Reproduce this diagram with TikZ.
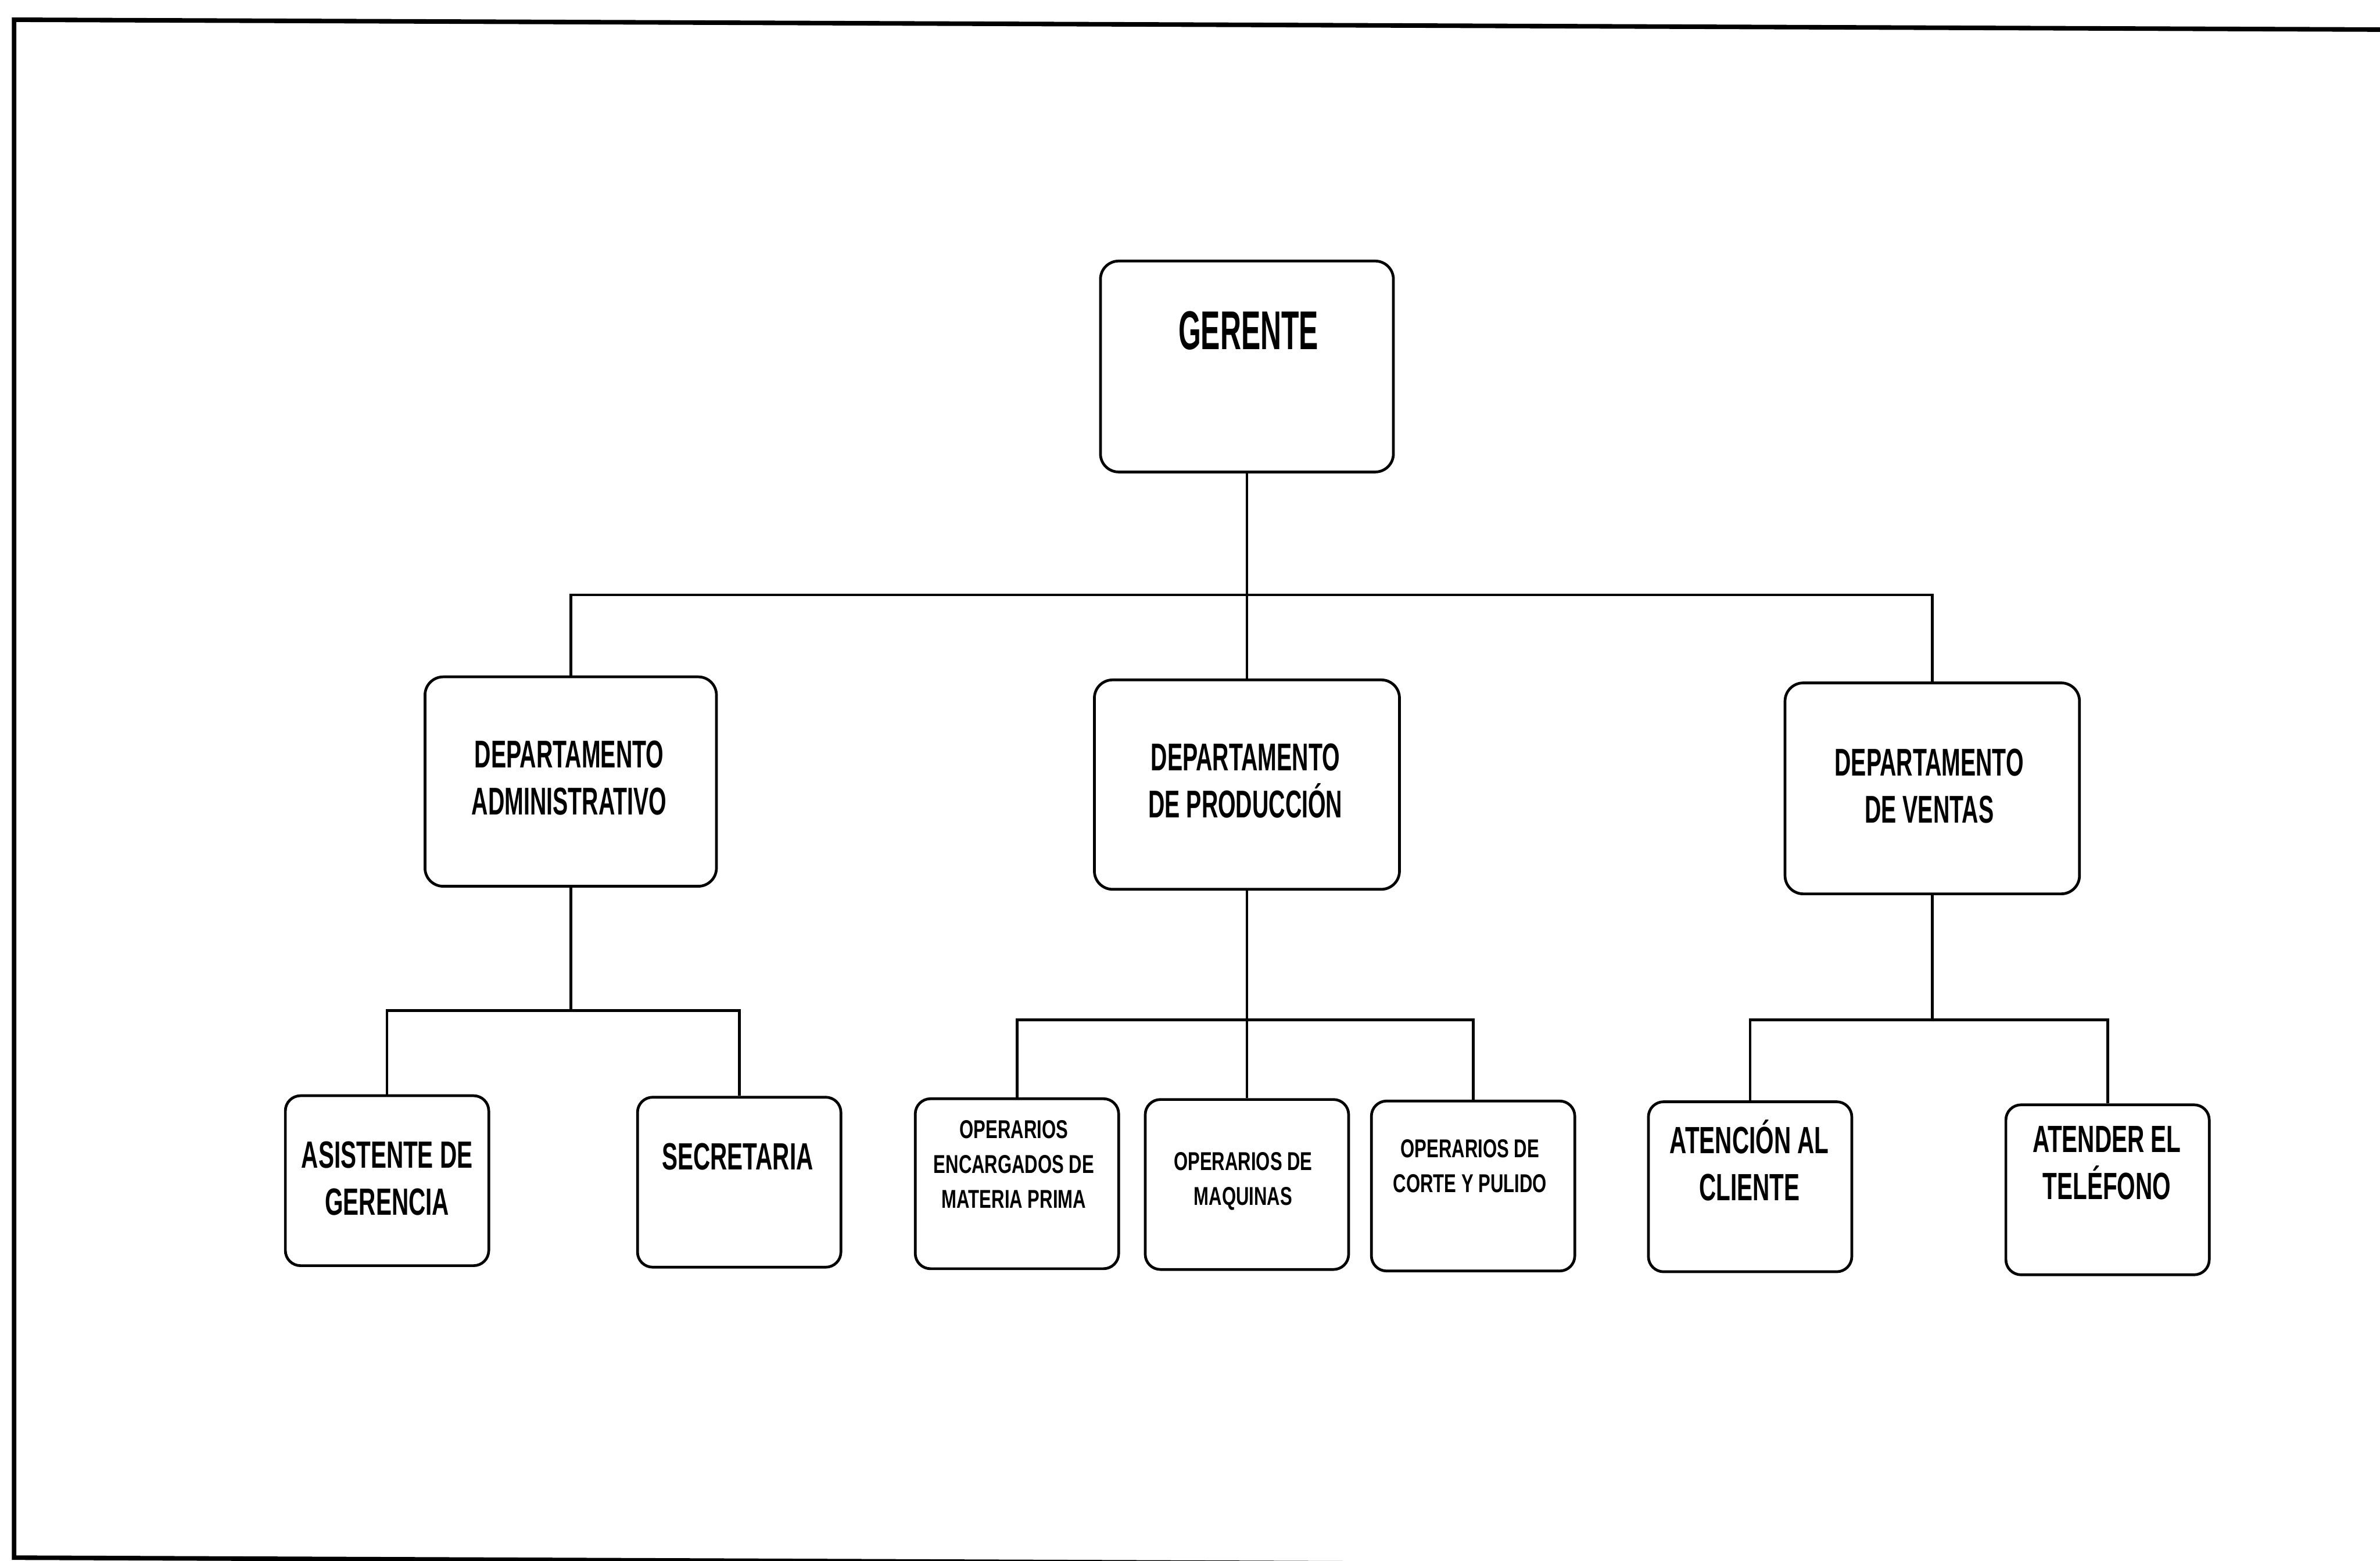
\documentclass[tikz,border=0pt]{standalone}
\usepackage{fontspec}
\newfontfamily\fGer[FakeStretch=0.53]{Liberation Sans}
\newfontfamily\fDep[FakeStretch=0.59]{Liberation Sans}
\newfontfamily\fBot[FakeStretch=0.62]{Liberation Sans}
\newfontfamily\fOp[FakeStretch=0.70]{Liberation Sans}
\begin{document}
\begin{tikzpicture}[x=1pt,y=-1pt,
  box/.style={draw, line width=1.8pt, rounded corners=12pt, fill=white},
  topbox/.style={box, minimum width=193pt, minimum height=139pt},
  depbox/.style={box, minimum height=138pt},
  smallbox/.style={box, rounded corners=10pt, minimum width=134pt, minimum height=112pt},
  link/.style={line width=1.8pt},
  frame/.style={line width=3pt},
  txt/.style={align=center, inner sep=0pt, text=black},
  gtxt/.style={txt, font=\fGer\bfseries\fontsize{36}{40}\selectfont},
  dtxt/.style={txt, font=\fDep\bfseries\fontsize{25.5}{31}\selectfont},
  btxt/.style={txt, font=\fBot\bfseries\fontsize{25}{31}\selectfont},
  otxt/.style={txt, font=\fOp\bfseries\fontsize{17}{23}\selectfont}]

\path[use as bounding box] (0,0) rectangle (1568,1028.45);
\clip (0,0) rectangle (1568,1028.45);

% outer frame (open on the right)
\draw[frame] (1570,19.5) -- (9.3,13) -- (9.3,1026.4) -- (1570,1033);

% boxes
\node[topbox] (ger) at (821.5,241.5) {};
\node[depbox, minimum width=192pt] (adm) at (376,515) {};
\node[depbox, minimum width=201pt] (prd) at (821.5,517) {};
\node[depbox, minimum width=194pt, minimum height=139pt] (ven) at (1273,519.5) {};

\node[smallbox] (asi) at (255,778) {};
\node[smallbox] (sec) at (487,779) {};
\node[smallbox] (mp)  at (670,780) {};
\node[smallbox] (maq) at (821.5,780.5) {};
\node[smallbox] (cor) at (970.5,781.5) {};
\node[smallbox] (ate) at (1153,782) {};
\node[smallbox] (tel) at (1388.5,784) {};

% texts
\node[gtxt] (gerT) at (822.5,218) {GERENTE};
\node[dtxt] (admT) at (375,512.5) {DEPARTAMENTO\\ADMINISTRATIVO};
\node[dtxt] (prdT) at (820.5,514.5) {DEPARTAMENTO\\DE PRODUCCIÓN};
\node[dtxt] (venT) at (1271,518) {DEPARTAMENTO\\DE VENTAS};
\node[btxt] (asiT) at (255,776.5) {ASISTENTE DE\\GERENCIA};
\node[btxt] (secT) at (486,762) {SECRETARIA};
\node[otxt] (mpT)  at (668,767) {OPERARIOS\\ENCARGADOS DE\\MATERIA PRIMA};
\node[otxt] (maqT) at (819,778.5) {OPERARIOS DE\\MAQUINAS};
\node[otxt] (corT) at (968.5,768.5) {OPERARIOS DE\\CORTE Y PULIDO};
\node[btxt] (ateT) at (1152.5,764.5) {ATENCIÓN AL\\CLIENTE};
\node[btxt] (telT) at (1388,766.5) {ATENDER EL\\TELÉFONO};

% connectors
\coordinate (b1) at (821.5,392);
\draw[link] (ger.south) -- (prd.north);
\draw[link] (adm.north) |- (b1) -| (ven.north);

\coordinate (b2) at (376,666);
\draw[link] (adm.south) -- (b2);
\draw[link] (asi.north) |- (b2) -| (sec.north);

\coordinate (b3) at (821.5,672);
\draw[link] (prd.south) -- (maq.north);
\draw[link] (mp.north) |- (b3) -| (cor.north);

\coordinate (b4) at (1273,672);
\draw[link] (ven.south) -- (b4);
\draw[link] (ate.north) |- (b4) -| (tel.north);
\end{tikzpicture}
\end{document}
